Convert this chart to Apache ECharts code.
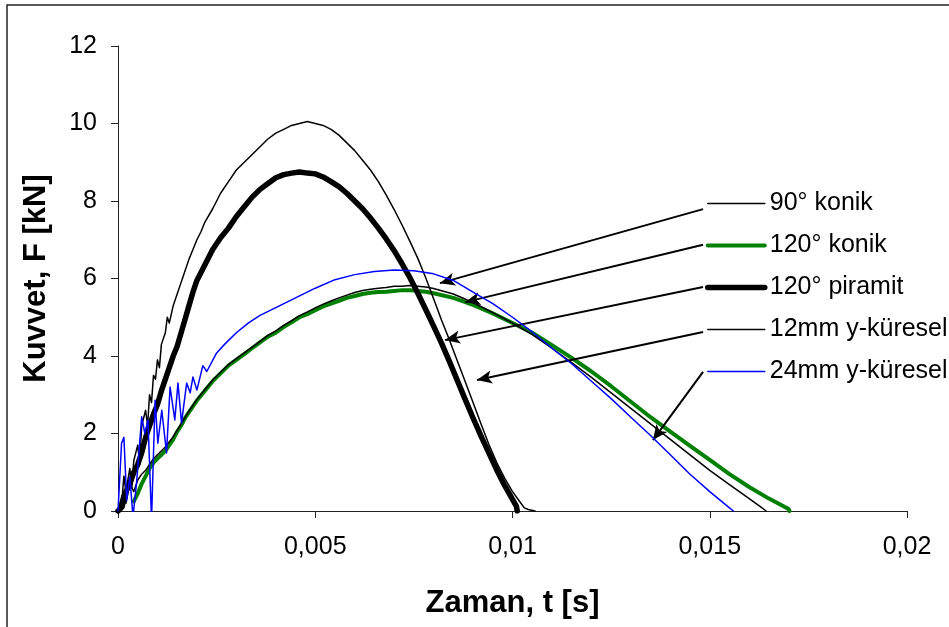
<!DOCTYPE html>
<html>
<head>
<meta charset="utf-8">
<script src="https://cdn.jsdelivr.net/npm/echarts@6/dist/echarts.min.js"></script>
<style>
  html, body { margin: 0; padding: 0; background: #fff; }
  #chart { width: 949px; height: 627px; }
</style>
</head>
<body>
<div id="chart"></div>
<script>
// seri adlari (lejant sirasi)
const seriesNames = ['90° konik', '120° konik', '120° piramit', '12mm y-küresel', '24mm y-küresel'];
const xTickLabels = ['0', '0,005', '0,01', '0,015', '0,02'];

// [t (s), F (kN)]
const konik90 = [
  [0, 0], [0.0001, 0.3], [0.00015, 0.9], [0.0002, 0.5], [0.0003, 1.1], [0.00035, 0.6], [0.0004, 1.3],
  [0.0005, 1.7], [0.00055, 1.2], [0.0006, 2.2], [0.0007, 2.6], [0.00075, 2.2], [0.0008, 3.0],
  [0.00085, 2.8], [0.0009, 3.5], [0.00095, 3.4], [0.001, 3.9], [0.00105, 3.7], [0.0011, 4.3],
  [0.0012, 4.6], [0.00125, 5.0], [0.0013, 4.85], [0.0014, 5.3], [0.0015, 5.6], [0.0016, 5.9],
  [0.0017, 6.2], [0.0018, 6.5], [0.0019, 6.75], [0.002, 7.0], [0.0021, 7.2], [0.0022, 7.45],
  [0.0024, 7.8], [0.0026, 8.2], [0.0028, 8.5], [0.003, 8.8], [0.0032, 9.0], [0.0034, 9.2],
  [0.0036, 9.4], [0.0038, 9.6], [0.004, 9.75], [0.0042, 9.85], [0.0044, 9.95], [0.0046, 10.0],
  [0.0048, 10.05], [0.005, 10.0], [0.0052, 9.95], [0.0054, 9.85], [0.0056, 9.7], [0.0058, 9.5],
  [0.006, 9.3], [0.0062, 9.05], [0.0064, 8.8], [0.0066, 8.5], [0.0068, 8.15], [0.007, 7.78],
  [0.0072, 7.38], [0.0074, 6.96], [0.0076, 6.52], [0.0078, 6.02], [0.008, 5.48], [0.0082, 4.93],
  [0.0084, 4.42], [0.0086, 3.88], [0.0088, 3.34], [0.009, 2.8], [0.0092, 2.25], [0.0094, 1.72],
  [0.0096, 1.25], [0.0098, 0.85], [0.01, 0.5], [0.0102, 0.22], [0.0103, 0.08], [0.0104, 0.04],
  [0.01057, 0]
];

const konik120 = [
  [0.0004, 0.25], [0.0005, 0.45], [0.0006, 0.7], [0.0007, 0.9], [0.0008, 1.1], [0.0009, 1.25],
  [0.001, 1.35], [0.0011, 1.45], [0.0012, 1.55], [0.0013, 1.7], [0.0014, 1.85], [0.0015, 2.05],
  [0.0016, 2.2], [0.0017, 2.4], [0.0018, 2.55], [0.0019, 2.7], [0.002, 2.85], [0.0022, 3.1],
  [0.0024, 3.35], [0.0026, 3.55], [0.0028, 3.75], [0.003, 3.9], [0.0032, 4.05], [0.0034, 4.2],
  [0.0036, 4.35], [0.0038, 4.5], [0.004, 4.6], [0.0042, 4.75], [0.0044, 4.87], [0.0046, 5.0],
  [0.0048, 5.08], [0.005, 5.18], [0.0052, 5.28], [0.0054, 5.35], [0.0056, 5.42], [0.0058, 5.5],
  [0.006, 5.55], [0.0062, 5.6], [0.0064, 5.63], [0.0066, 5.65], [0.0068, 5.66], [0.007, 5.68],
  [0.0072, 5.7], [0.0074, 5.7], [0.0076, 5.68], [0.0078, 5.66], [0.008, 5.62], [0.0085, 5.5],
  [0.009, 5.32], [0.0095, 5.1], [0.01, 4.85], [0.0105, 4.6], [0.011, 4.28], [0.0115, 3.95],
  [0.012, 3.6], [0.0125, 3.22], [0.013, 2.82], [0.0135, 2.42], [0.014, 2.05], [0.0145, 1.68],
  [0.015, 1.32], [0.0155, 0.95], [0.016, 0.62], [0.0165, 0.32], [0.017, 0.05], [0.01702, 0]
];

const piramit120 = [
  [0, 0], [0.0001, 0.1], [0.0002, 0.5], [0.0003, 0.7], [0.0004, 1.0], [0.0005, 1.2], [0.0006, 1.5],
  [0.0007, 1.9], [0.0008, 2.2], [0.0009, 2.5], [0.001, 2.75], [0.0011, 3.1], [0.0012, 3.4],
  [0.0013, 3.7], [0.0014, 4.0], [0.0015, 4.25], [0.0016, 4.6], [0.0017, 4.95], [0.0018, 5.3],
  [0.0019, 5.65], [0.002, 5.95], [0.0022, 6.35], [0.0024, 6.75], [0.0026, 7.05], [0.0028, 7.3],
  [0.003, 7.6], [0.0032, 7.85], [0.0034, 8.1], [0.0036, 8.3], [0.0038, 8.45], [0.004, 8.6],
  [0.0042, 8.68], [0.0044, 8.72], [0.0046, 8.75], [0.0048, 8.72], [0.005, 8.7], [0.0052, 8.62],
  [0.0054, 8.5], [0.0056, 8.37], [0.0058, 8.2], [0.006, 8.0], [0.0062, 7.8], [0.0064, 7.56],
  [0.0066, 7.3], [0.0068, 7.02], [0.007, 6.72], [0.0072, 6.38], [0.0074, 6.02], [0.0076, 5.62],
  [0.0078, 5.2], [0.008, 4.77], [0.0082, 4.33], [0.0084, 3.86], [0.0086, 3.37], [0.0088, 2.88],
  [0.009, 2.4], [0.0092, 1.94], [0.0094, 1.5], [0.0096, 1.06], [0.0098, 0.66], [0.01, 0.3],
  [0.0101, 0.12], [0.01012, 0]
];

const kure12 = [
  [0, 0], [0.0001, 0.4], [0.0002, 0.2], [0.0003, 0.7], [0.0004, 0.5], [0.0005, 0.8], [0.0006, 0.95],
  [0.0007, 1.05], [0.0008, 1.2], [0.0009, 1.35], [0.001, 1.45], [0.0012, 1.65], [0.0014, 1.92],
  [0.0016, 2.25], [0.0018, 2.58], [0.002, 2.88], [0.0022, 3.13], [0.0024, 3.38], [0.0026, 3.58],
  [0.0028, 3.78], [0.003, 3.93], [0.0032, 4.08], [0.0034, 4.23], [0.0036, 4.38], [0.0038, 4.53],
  [0.004, 4.65], [0.0042, 4.79], [0.0044, 4.91], [0.0046, 5.04], [0.0048, 5.14], [0.005, 5.24],
  [0.0052, 5.34], [0.0054, 5.42], [0.0056, 5.5], [0.0058, 5.57], [0.006, 5.64], [0.0062, 5.69],
  [0.0064, 5.72], [0.0066, 5.75], [0.0068, 5.77], [0.007, 5.8], [0.0072, 5.8], [0.0074, 5.82],
  [0.0076, 5.8], [0.0078, 5.78], [0.008, 5.74], [0.0085, 5.6], [0.009, 5.38], [0.0095, 5.12],
  [0.01, 4.85], [0.0105, 4.55], [0.011, 4.2], [0.0115, 3.83], [0.012, 3.45], [0.0125, 3.05],
  [0.013, 2.65], [0.0135, 2.25], [0.014, 1.85], [0.0145, 1.45], [0.015, 1.05], [0.0155, 0.68],
  [0.016, 0.32], [0.0163, 0.1], [0.01643, 0]
];

const kure24 = [
  [0, 0], [0.00009, 1.75], [0.00015, 1.9], [0.00022, 0.28], [0.0003, 0.88], [0.00038, -0.15],
  [0.00047, 0.72], [0.0006, 2.43], [0.00068, 2.0], [0.00076, 2.35], [0.00085, -0.23],
  [0.00094, 2.86], [0.00101, 1.75], [0.00111, 2.6], [0.00123, 1.5], [0.00132, 3.2],
  [0.00144, 2.35], [0.00152, 3.3], [0.00161, 2.27], [0.00174, 3.3], [0.00183, 3.05],
  [0.0019, 3.46], [0.002, 3.12], [0.00215, 3.75], [0.00225, 3.6], [0.0025, 4.08], [0.0027, 4.3],
  [0.003, 4.6], [0.0033, 4.85], [0.0036, 5.05], [0.004, 5.25], [0.0045, 5.5], [0.005, 5.75],
  [0.0055, 5.97], [0.006, 6.1], [0.0065, 6.18], [0.007, 6.22], [0.0075, 6.2], [0.008, 6.12],
  [0.0085, 5.95], [0.009, 5.65], [0.0095, 5.35], [0.01, 5.0], [0.0105, 4.62], [0.011, 4.2],
  [0.0115, 3.8], [0.012, 3.35], [0.0125, 2.9], [0.013, 2.42], [0.0135, 1.95], [0.014, 1.45],
  [0.0145, 0.95], [0.015, 0.5], [0.0155, 0.08], [0.0156, 0]
];

// lejanttan egriye oklar: [baslangic, uc] (veri koordinatlari)
const arrowLines = [
  [[0.01483, 7.79], [0.00816, 5.88]],
  [[0.01483, 6.87], [0.00880, 5.39]],
  [[0.01483, 5.78], [0.00829, 4.41]],
  [[0.01483, 4.62], [0.00910, 3.38]],
  [[0.01483, 3.59], [0.01356, 1.83]]
];

const chart = echarts.init(document.getElementById('chart'));
const font = 'Liberation Sans, Arial, sans-serif';

const arrowOf = i => ({
  silent: true,
  symbol: ['none', 'arrow'],
  symbolSize: [10, 15],
  label: { show: false },
  lineStyle: { color: '#000', width: 2, type: 'solid' },
  emphasis: { disabled: true },
  data: [[{ coord: arrowLines[i][0] }, { coord: arrowLines[i][1] }]]
});

const lineSeries = (name, data, color, width, idx, z) => ({
  name: name,
  type: 'line',
  data: data,
  symbol: 'none',
  showSymbol: false,
  color: color,
  z: z,
  lineStyle: { color: color, width: width, cap: 'round', join: 'round' },
  emphasis: { disabled: true },
  markLine: arrowOf(idx)
});

const option = {
  animation: false,
  backgroundColor: '#fff',
  grid: { left: 118, right: 42, top: 46, bottom: 116 },
  legend: {
    data: seriesNames,
    orient: 'vertical',
    left: 705,
    top: 191,
    padding: 0,
    itemWidth: 57,
    itemHeight: 24,
    itemGap: 17,
    selectedMode: false,
    itemStyle: { opacity: 0 },
    lineStyle: { width: 'inherit' },
    textStyle: { fontSize: 25, color: '#000', fontFamily: font, lineHeight: 24 }
  },
  xAxis: {
    type: 'value',
    min: 0,
    max: 0.02,
    interval: 0.005,
    name: 'Zaman, t [s]',
    nameLocation: 'middle',
    nameGap: 77,
    nameTextStyle: { fontSize: 31, fontWeight: 'bold', color: '#000', fontFamily: font },
    axisLine: { show: true, lineStyle: { color: '#222', width: 1 } },
    axisTick: { show: true, length: 7, lineStyle: { color: '#222' } },
    splitLine: { show: false },
    axisLabel: {
      margin: 24,
      fontSize: 25,
      color: '#000',
      fontFamily: font,
      formatter: v => xTickLabels[Math.round(v / 0.005)]
    }
  },
  yAxis: {
    type: 'value',
    min: 0,
    max: 12,
    interval: 2,
    name: 'Kuvvet, F [kN]',
    nameLocation: 'middle',
    nameGap: 66,
    nameRotate: 90,
    nameTextStyle: { fontSize: 31, fontWeight: 'bold', color: '#000', fontFamily: font },
    axisLine: { show: true, lineStyle: { color: '#222', width: 1 } },
    axisTick: { show: true, length: 7, lineStyle: { color: '#222' } },
    splitLine: { show: false },
    axisLabel: { margin: 21, fontSize: 25, color: '#000', fontFamily: font }
  },
  series: [
    lineSeries(seriesNames[1], konik120, '#008000', 4, 1, 2),
    lineSeries(seriesNames[2], piramit120, '#000000', 5.5, 2, 3),
    lineSeries(seriesNames[0], konik90, '#000000', 1.5, 0, 4),
    lineSeries(seriesNames[3], kure12, '#000000', 1.5, 3, 5),
    lineSeries(seriesNames[4], kure24, '#0000ff', 1.5, 4, 6)
  ],
  graphic: [{
    type: 'polyline',
    silent: true,
    shape: { points: [[7, 627], [7, 5], [949, 5]] },
    style: { stroke: '#222', lineWidth: 1.5, fill: null }
  }]
};

chart.setOption(option);
</script>
</body>
</html>
